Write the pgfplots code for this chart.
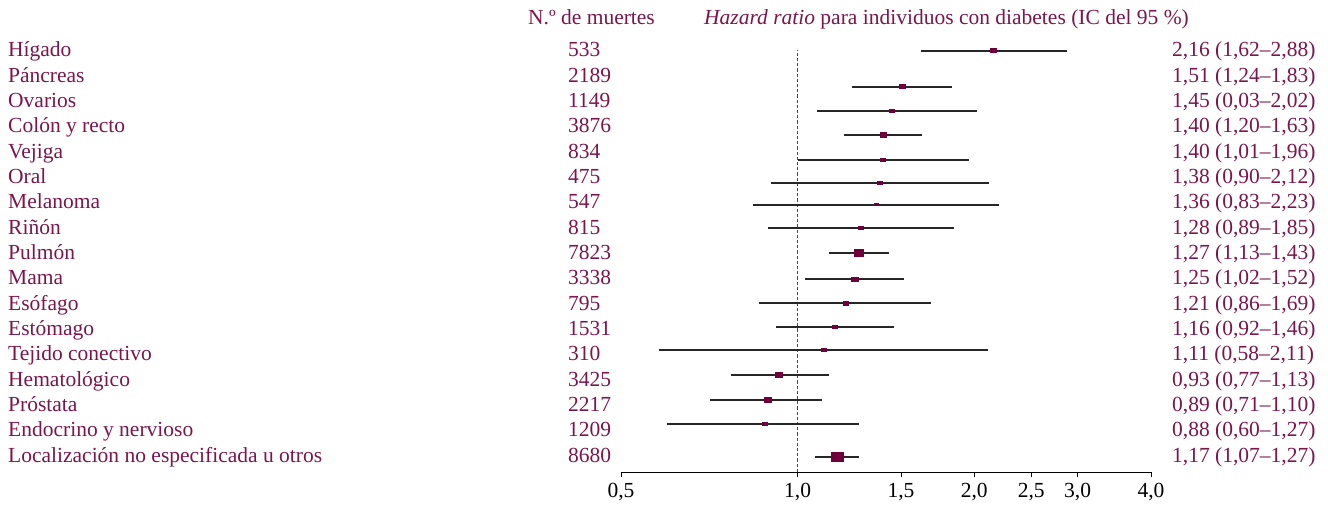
\documentclass[border=0pt]{standalone}
\usepackage{fontspec}
\setmainfont{Liberation Serif}
\usepackage{pgfplots}
\pgfplotsset{compat=1.18}
\usepackage{pgfplotstable}
\definecolor{wine}{RGB}{112,0,58}
\definecolor{txt}{RGB}{122,22,74}

\pgfdeclareplotmark{hrect}{%
  \pgfpathrectangle{\pgfpoint{-0.5pt*\mw}{-0.5pt*\mh}}{\pgfpoint{1pt*\mw}{1pt*\mh}}%
  \pgfusepathqfill}

% marker row (pixel row of reference), hazard ratio, marker width, marker height
\pgfplotstableread{
py  hr   w  h
51  2.16 7  5
87  1.51 7  5
111 1.45 6  4
135 1.40 7  5.7
160 1.40 6  3.7
183 1.38 6  4
205 1.36 5  3
228 1.28 6  4
253 1.27 10 8
279 1.25 8  5
303 1.21 6  5
327 1.16 6  4.7
350 1.11 6  4
375 0.93 8  6
400 0.89 8  6.3
424 0.88 6  4
457 1.17 13 10
}\markers

\newcommand{\fsz}{\fontsize{21.5}{25}\selectfont}

\begin{document}
\begin{tikzpicture}
\begin{axis}[
  scale only axis, width=530pt, height=432pt,
  xmode=log, xmin=0.5, xmax=4, ymin=-472, ymax=-40,
  axis x line=bottom, axis y line=none,
  x axis line style={-, black, line width=0.8pt},
  xtick={0.5,1,1.5,2,2.5,3,4},
  xticklabels={{0,5},{1,0},{1,5},{2,0},{2,5},{3,0},{4,0}},
  minor tick num=0,
  tick align=outside, major tick length=5pt,
  xtick style={black, line width=0.8pt},
  xticklabel style={font=\fsz, text=black, yshift=-3pt},
  clip=false,
  ci/.style={black!85, line width=1.4pt},
]
\addplot[black!72, line width=1.3pt, dash pattern=on 3.2pt off 2pt] coordinates {(1,-472) (1,-50)};
\addplot[ci] coordinates {(1.62,-51) (2.88,-51)};
\addplot[ci] coordinates {(1.24,-87) (1.83,-87)};
\addplot[ci] coordinates {(1.08,-111) (2.02,-111)};
\addplot[ci] coordinates {(1.20,-135) (1.63,-135)};
\addplot[ci] coordinates {(1.00,-160) (1.96,-160)};
\addplot[ci] coordinates {(0.90,-183) (2.12,-183)};
\addplot[ci] coordinates {(0.84,-205) (2.20,-205)};
\addplot[ci] coordinates {(0.89,-228) (1.85,-228)};
\addplot[ci] coordinates {(1.13,-253) (1.43,-253)};
\addplot[ci] coordinates {(1.03,-279) (1.52,-279)};
\addplot[ci] coordinates {(0.86,-303) (1.69,-303)};
\addplot[ci] coordinates {(0.92,-327) (1.46,-327)};
\addplot[ci] coordinates {(0.58,-350) (2.11,-350)};
\addplot[ci] coordinates {(0.77,-375) (1.13,-375)};
\addplot[ci] coordinates {(0.71,-400) (1.10,-400)};
\addplot[ci] coordinates {(0.60,-424) (1.27,-424)};
\addplot[ci] coordinates {(1.07,-457) (1.27,-457)};
\addplot[scatter, only marks, mark=hrect,
  scatter/use mapped color={draw=wine, fill=wine},
  visualization depends on={\thisrow{w} \as \mw},
  visualization depends on={\thisrow{h} \as \mh}]
  table[x=hr, y expr=-\thisrow{py}] {\markers};
\end{axis}
\begin{scope}[x=1pt, y=1pt, shift={(-621pt,472pt)},
  every node/.style={inner sep=0pt, text=txt, font=\fsz, anchor=base west}]
\node at (528,-25) {N.º de muertes};
\node at (704,-25) {\textit{Hazard ratio} para individuos con diabetes (IC del 95 \%)};
\foreach \i/\name/\n/\ci in {
  0/Hígado/533/{2,16 (1,62–2,88)},
  1/Páncreas/2189/{1,51 (1,24–1,83)},
  2/Ovarios/1149/{1,45 (0,03–2,02)},
  3/Colón y recto/3876/{1,40 (1,20–1,63)},
  4/Vejiga/834/{1,40 (1,01–1,96)},
  5/Oral/475/{1,38 (0,90–2,12)},
  6/Melanoma/547/{1,36 (0,83–2,23)},
  7/Riñón/815/{1,28 (0,89–1,85)},
  8/Pulmón/7823/{1,27 (1,13–1,43)},
  9/Mama/3338/{1,25 (1,02–1,52)},
  10/Esófago/795/{1,21 (0,86–1,69)},
  11/Estómago/1531/{1,16 (0,92–1,46)},
  12/Tejido conectivo/310/{1,11 (0,58–2,11)},
  13/Hematológico/3425/{0,93 (0,77–1,13)},
  14/Próstata/2217/{0,89 (0,71–1,10)},
  15/Endocrino y nervioso/1209/{0,88 (0,60–1,27)},
  16/Localización no especificada u otros/8680/{1,17 (1,07–1,27)}}{
  \pgfmathsetmacro{\yb}{-56.7-25.35*\i}
  \node at (8,\yb) {\name};
  \node at (568,\yb) {\n};
  \node at (1172,\yb) {\ci};
}
\end{scope}
\pgfresetboundingbox
\path[use as bounding box] (-621pt,-32pt) rectangle (707pt,472pt);
\end{tikzpicture}
\end{document}
